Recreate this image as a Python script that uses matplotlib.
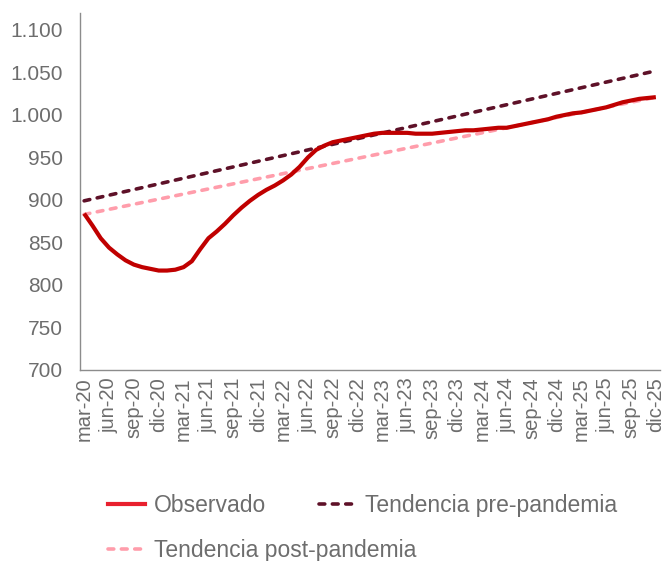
import matplotlib.pyplot as plt
from matplotlib.lines import Line2D

# monthly data, mar-20 .. dic-25
meses = ['ene', 'feb', 'mar', 'abr', 'may', 'jun', 'jul', 'ago', 'sep', 'oct', 'nov', 'dic']
fechas = [f'{m}-{a}' for a in range(20, 26) for m in meses][2:]

observado = [884, 870, 855, 844, 836, 829, 824, 821, 819, 817,
             817, 818, 821, 828, 842, 855, 863, 872, 882, 891,
             899, 906, 912, 917, 923, 930, 939, 950, 959, 964,
             968, 970, 972, 974, 976, 978, 979, 979, 979, 979,
             978, 978, 978, 979, 980, 981, 982, 982, 983, 984,
             985, 985, 987, 989, 991, 993, 995, 998, 1000, 1002,
             1003, 1005, 1007, 1009, 1012, 1015, 1017, 1019, 1020, 1021]

# trend lines: start (mar-20) and end (dic-25) values
pre_pandemia = [899, 1052]
post_pandemia = [883, 1021]

rojo = '#c00000'
rojo_leyenda = '#e8202e'
granate = '#5e1128'
rosa = '#ff9dab'
gris = '#6d6d6d'
guiones = (1.6, 2.1)

plt.rcParams['font.family'] = ['Liberation Sans', 'DejaVu Sans']

fig = plt.figure(figsize=(6.63, 5.61), dpi=100)
ax = fig.add_axes([80/663, 1 - 370/561, 580/663, 357/561])

x = list(range(len(observado)))
ext = [0, len(observado) - 1]

ax.plot(ext, pre_pandemia, color=granate, lw=2.6, dashes=guiones,
        dash_capstyle='round')
ax.plot(ext, post_pandemia, color=rosa, lw=2.6, dashes=guiones,
        dash_capstyle='round')
ax.plot(x, observado, color=rojo, lw=3.0, solid_capstyle='butt')

ax.set_xlim(-0.5, len(observado) - 0.5)
ax.set_ylim(700, 1120)
ax.set_yticks(range(700, 1101, 50))
ax.set_yticklabels([f'{v:,}'.replace(',', '.') for v in range(700, 1101, 50)])
ax.set_xticks(x[::3])
ax.set_xticklabels(fechas[::3], rotation=90)

ax.tick_params(axis='y', length=0, pad=12, labelsize=15, labelcolor=gris)
ax.tick_params(axis='x', length=0, pad=5, labelsize=14.5, labelcolor=gris)
for s in ['top', 'right']:
    ax.spines[s].set_visible(False)
for s in ['left', 'bottom']:
    ax.spines[s].set_color('#8c8c8c')
    ax.spines[s].set_linewidth(1)

h_obs = Line2D([], [], color=rojo_leyenda, lw=3)
h_pre = Line2D([], [], color=granate, lw=2.6, dashes=guiones, dash_capstyle='round')
h_post = Line2D([], [], color=rosa, lw=2.6, dashes=guiones, dash_capstyle='round')

opts = dict(loc='upper left', frameon=False, fontsize=16.5, handlelength=1.6,
            handletextpad=0.4, columnspacing=2.3, borderpad=0, borderaxespad=0)
leg1 = fig.legend([h_obs, h_pre], ['Observado', 'Tendencia pre-pandemia'], ncol=2,
                  bbox_to_anchor=(108/663, 1 - 494/561), **opts)
leg2 = fig.legend([h_post], ['Tendencia post-pandemia'],
                  bbox_to_anchor=(108/663, 1 - 539/561), **opts)
for leg in (leg1, leg2):
    for t in leg.get_texts():
        t.set_color(gris)

fig.savefig('out.png', dpi=100)
